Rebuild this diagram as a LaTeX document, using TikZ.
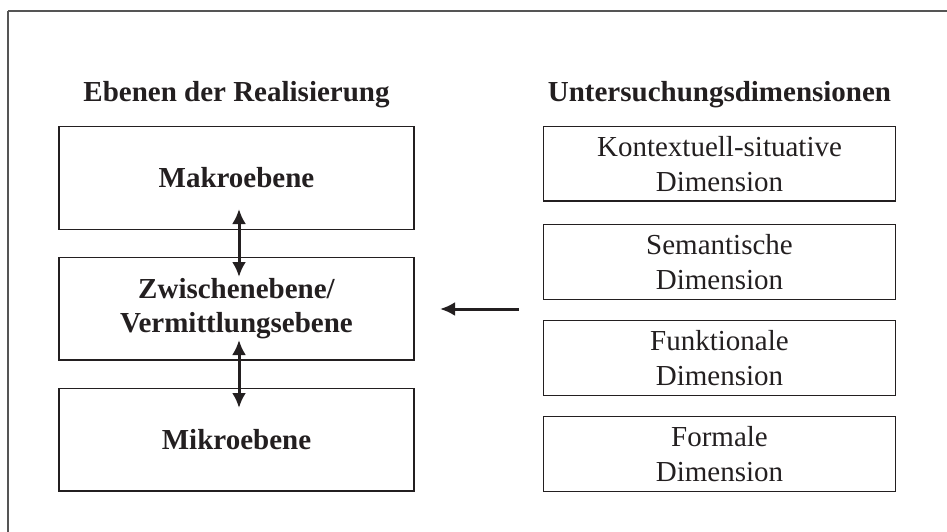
\documentclass[tikz,border=0pt]{standalone}
\usepackage{fontspec}
\setmainfont{Liberation Serif}
\usetikzlibrary{arrows.meta}
\definecolor{ink}{RGB}{35,31,32}
\definecolor{framec}{RGB}{85,85,85}
\begin{document}
\begin{tikzpicture}[x=1pt,y=-1pt,
  every node/.style={text=ink},
  lbox/.style={draw=ink,line width=1.3pt,minimum width=355pt,minimum height=102.7pt,
    font=\fontsize{29}{34.5}\selectfont\bfseries,align=center,inner sep=0pt},
  rbox/.style={draw=ink,line width=1.3pt,minimum width=352.4pt,minimum height=75pt,
    font=\fontsize{29}{35}\selectfont,align=center,inner sep=0pt},
  ttl/.style={font=\fontsize{29}{34.5}\selectfont\bfseries,inner sep=0pt},
  arr/.style={draw=ink,line width=3pt,-{Latex[length=15pt,width=14pt]}},
  darr/.style={draw=ink,line width=3pt,{Latex[length=15pt,width=14pt]}-{Latex[length=15pt,width=14pt]}}]
\useasboundingbox (0,0) rectangle (947,532);
\draw[framec,line width=2pt] (8,11) -- (8,540) (8,11) -- (955,11);
\node[ttl] (t1) at (236.5,95) {Ebenen der Realisierung};
\node[ttl] (t2) at (719.5,95) {Untersuchungsdimensionen};
\node[lbox] (makro) at (236.5,178) {Makroebene};
\node[lbox] (zw) at (236.5,308.7) {Zwischenebene/\\Vermittlungsebene};
\node[lbox] (mikro) at (236.5,439.7) {Mikroebene};
\node[rbox,minimum height=74.3pt] (d1) at (719.5,163.9) {Kontextuell-situative\\Dimension};
\node[rbox] (d2) at (719.5,261.8) {Semantische\\Dimension};
\node[rbox] (d3) at (719.5,358.2) {Funktionale\\Dimension};
\node[rbox] (d4) at (719.5,454.2) {Formale\\Dimension};
\coordinate (a1s) at (239,209);
\coordinate (a1e) at (239,277);
\coordinate (a2s) at (239,340);
\coordinate (a2e) at (239,408);
\coordinate (hs) at (519,309);
\coordinate (he) at (440,309);
\draw[darr] (a1s) -- (a1e);
\draw[darr] (a2s) -- (a2e);
\draw[arr] (hs) -- (he);
\end{tikzpicture}
\end{document}
